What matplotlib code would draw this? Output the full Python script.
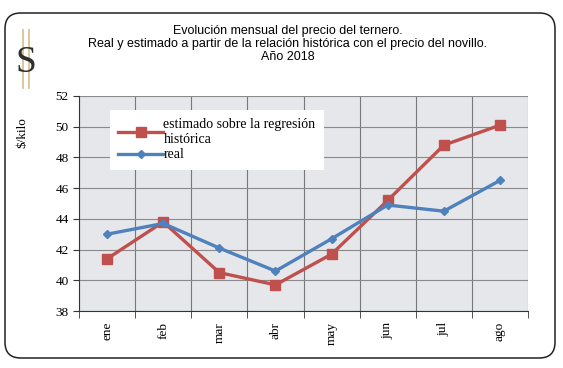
import matplotlib
matplotlib.use("Agg")
import matplotlib.pyplot as plt
from matplotlib.patches import FancyBboxPatch
import numpy as np

months = ["ene", "feb", "mar", "abr", "may", "jun", "jul", "ago"]
estimado = [41.4, 43.8, 40.5, 39.7, 41.7, 45.2, 48.8, 50.1]
real = [43.0, 43.7, 42.1, 40.6, 42.7, 44.9, 44.5, 46.5]
yticks = [38, 40, 42, 44, 46, 48, 50, 52]

W, H = 563, 368
fig = plt.figure(figsize=(W/100, H/100), dpi=100)
fig.patch.set_facecolor("white")

# outer rounded frame
frame = FancyBboxPatch((5/W, 10/H), 550/W, 345/H, boxstyle="round,pad=0,rounding_size=0.028",
                       transform=fig.transFigure, fill=False, edgecolor="#222222", linewidth=1.1,
                       mutation_aspect=W/H)
fig.patches.append(frame)

# logo
for dx in (-3, 3):
    fig.add_artist(plt.Line2D([(26+dx)/W, (26+dx)/W], [1-30/H, 1-88/H], color="#d8c89a", lw=1.4,
                              transform=fig.transFigure, zorder=0))
fig.text(26/W, 1-63/H, "S", family="Liberation Serif", fontsize=27, color="#2e2e2e",
         ha="center", va="center", zorder=2)

# title
fig.text(288/W, 1-44/H, "Evolución mensual del precio del ternero.\n"
         "Real y estimado a partir de la relación histórica con el precio del novillo.\nAño 2018",
         ha="center", va="center", family="Liberation Sans", fontsize=9, linespacing=1.15)

ax = fig.add_axes([79/W, 1-311/H, 449/W, 215/H])
ax.set_facecolor("#e6e7ea")
x = np.arange(len(months))
ax.plot(x, estimado, color="#c0504d", lw=2.4, marker="s", ms=6.5,
        label="estimado sobre la regresión\nhistórica", zorder=3)
ax.plot(x, real, color="#4f81bd", lw=2.4, marker="D", ms=4, label="real", zorder=4)

ax.set_xlim(-0.5, len(months)-0.5)
ax.set_ylim(38, 52)
ax.set_yticks(yticks)
ax.set_yticklabels([str(v) for v in yticks], family="Liberation Serif", fontsize=9.5)
ax.set_xticks(x)
ax.set_xticklabels(months, rotation=90, family="Liberation Serif", fontsize=9.5)
ax.tick_params(axis="x", length=0, pad=8)
ax.set_xticks(np.arange(-0.5, len(months)), minor=True)
ax.tick_params(axis="x", which="minor", length=5, direction="out", color="#333333")
ax.tick_params(axis="y", length=4, direction="out", color="#333333")
ax.grid(True, axis="y", color="#8a8a8a", lw=0.8)
ax.grid(True, axis="x", which="minor", color="#777777", lw=0.8)
ax.set_axisbelow(True)
for s in ["top", "right"]:
    ax.spines[s].set_visible(False)
ax.spines["left"].set_color("#333333")
ax.spines["bottom"].set_color("#333333")

fig.text(22/W, 1-133/H, "$/kilo", family="Liberation Serif", fontsize=9.5, rotation=90,
         ha="center", va="center")

leg = ax.legend(loc="upper left", bbox_to_anchor=(31/449, 1-14/215), frameon=True, fancybox=False,
                prop={"family": "Liberation Serif", "size": 10}, handlelength=3.2, borderpad=0.6,
                labelspacing=0.15, handletextpad=0.05, borderaxespad=0)
leg.get_frame().set_edgecolor("white")
leg.get_frame().set_facecolor("white")
leg.get_frame().set_alpha(1)
leg.get_frame().set_linewidth(0)

fig.savefig("out.png", dpi=100)
